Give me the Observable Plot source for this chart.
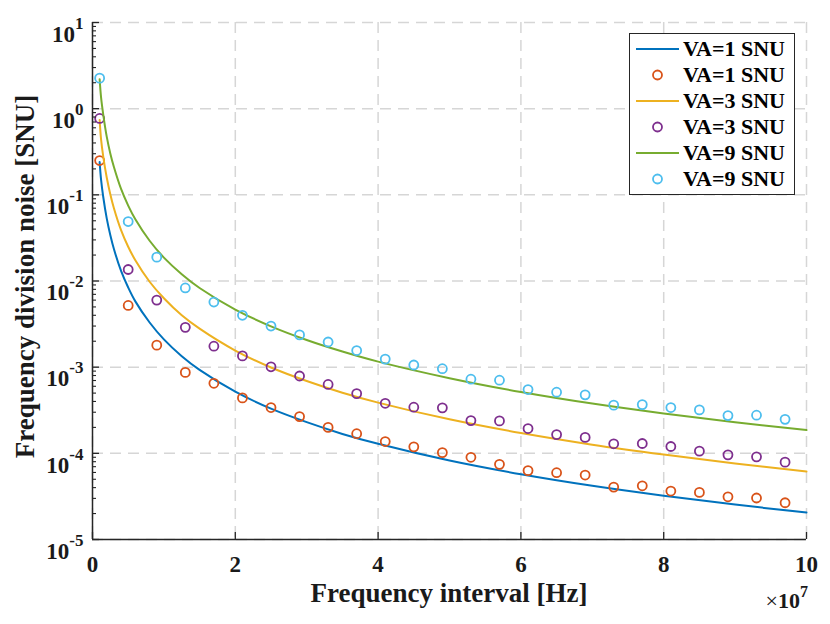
<!DOCTYPE html>
<html><head><meta charset="utf-8">
<script src="https://cdn.jsdelivr.net/npm/d3@7"></script>
<script src="https://cdn.jsdelivr.net/npm/@observablehq/plot@0.6"></script>
<style>
body{margin:0;background:#fff;}
#wrap{position:relative;width:830px;height:624px;}
.legend{position:absolute;left:629px;top:33px;width:166px;height:162px;box-sizing:border-box;border:1px solid #262626;background:#fff;padding-top:2px;font-family:'Liberation Serif','Times New Roman',serif;font-weight:bold;font-size:22px;color:#000;}
.row{position:relative;height:26px;line-height:26px;}
.row svg{position:absolute;left:4px;top:0;}
.row span{position:absolute;left:53px;top:0;white-space:nowrap;}
</style></head><body><div id="wrap"></div>
<script>
// Sample points (x in units of 1e7 Hz)
const circleX = [0.1, 0.5, 0.9, 1.3, 1.7, 2.1, 2.5, 2.9, 3.3, 3.7, 4.1, 4.5, 4.9, 5.3, 5.7, 6.1, 6.5, 6.9, 7.3, 7.7, 8.1, 8.5, 8.9, 9.3, 9.7];
const va1Circles = [0.25, 0.0052, 0.0018, 0.00087, 0.00065, 0.00044, 0.00034, 0.000267, 0.0002, 0.000169, 0.000137, 0.000119, 0.000102, 0.00009, 0.0000745, 0.000063, 0.0000596, 0.000056, 0.0000406, 0.000042, 0.0000365, 0.0000352, 0.0000313, 0.0000303, 0.0000267];
const va3Circles = [0.77, 0.0136, 0.006, 0.0029, 0.00175, 0.00135, 0.00101, 0.00079, 0.00063, 0.000494, 0.000381, 0.000343, 0.000337, 0.00024, 0.000238, 0.000194, 0.000165, 0.000153, 0.000129, 0.00013, 0.00012, 0.000106, 0.000096, 0.000091, 0.000079];
const va9Circles = [2.26, 0.049, 0.0189, 0.0083, 0.0057, 0.004, 0.003, 0.00237, 0.00196, 0.00156, 0.00124, 0.00106, 0.00096, 0.000725, 0.000706, 0.00055, 0.000512, 0.000477, 0.000362, 0.000368, 0.00034, 0.000319, 0.000274, 0.000277, 0.000248];

// Curves
const lineX = [0.1, 0.12, 0.15, 0.2, 0.25, 0.3, 0.4, 0.5, 0.6, 0.8, 1, 1.25, 1.5, 2, 2.5, 3, 3.5, 4, 5, 6, 7, 8, 9, 10];
const va1Line = [0.24, 0.15, 0.095, 0.053, 0.034, 0.0235, 0.0131, 0.0084, 0.0058, 0.0033, 0.0021, 0.00134, 0.00093, 0.00052, 0.00033, 0.00023, 0.000168, 0.000129, 0.0000825, 0.0000572, 0.000042, 0.0000322, 0.0000254, 0.0000206];
const va3Line = [0.74, 0.44, 0.28, 0.158, 0.101, 0.07, 0.039, 0.025, 0.0174, 0.0098, 0.0063, 0.004, 0.0028, 0.00156, 0.00099, 0.00069, 0.000505, 0.000388, 0.000248, 0.000172, 0.000126, 0.0000967, 0.0000763, 0.0000617];
const va9Line = [2.2, 1.35, 0.86, 0.47, 0.3, 0.21, 0.117, 0.075, 0.052, 0.0293, 0.0187, 0.012, 0.0083, 0.00466, 0.00298, 0.00207, 0.00152, 0.00116, 0.000745, 0.000515, 0.000378, 0.00029, 0.000229, 0.000186];

const xTicks = [0, 2, 4, 6, 8, 10];
const yMajor = [1e-5, 1e-4, 1e-3, 1e-2, 1e-1, 1, 10];
const yMinor = yMajor.slice(0, -1).flatMap(d => [2,3,4,5,6,7,8,9].map(k => k * d));

const legendLabels = ["VA=1 SNU", "VA=1 SNU", "VA=3 SNU", "VA=3 SNU", "VA=9 SNU", "VA=9 SNU"];
const legendKinds = ["line", "circle", "line", "circle", "line", "circle"];
const seriesColors = ["#0072BD", "#D95319", "#EDB120", "#7E2F8E", "#77AC30", "#4DBEEE"];

const xLabel = "Frequency interval [Hz]";
const yLabel = "Frequency division noise [SNU]";

const toPts = (xs, ys) => xs.map((x, i) => ({x, y: ys[i]}));
const series = [
  {kind: "line", data: toPts(lineX, va1Line)},
  {kind: "circle", data: toPts(circleX, va1Circles)},
  {kind: "line", data: toPts(lineX, va3Line)},
  {kind: "circle", data: toPts(circleX, va3Circles)},
  {kind: "line", data: toPts(lineX, va9Line)},
  {kind: "circle", data: toPts(circleX, va9Circles)}
];

const axisColor = "#262626";
const gridStyle = {stroke: "#d6d6d6", strokeOpacity: 1, strokeWidth: 1.5, strokeDasharray: "11,7"};
const font = "'Liberation Serif','Times New Roman',serif";

const plot = Plot.plot({
  width: 830, height: 624,
  marginLeft: 92, marginRight: 24, marginTop: 22, marginBottom: 85,
  style: {fontFamily: font, fontWeight: "bold", fontSize: "23px", color: "#1a1a1a", background: "#fff"},
  x: {domain: [0, 10], label: null},
  y: {type: "log", domain: [1e-5, 10], label: null},
  marks: [
    Plot.gridY(yMajor, gridStyle),
    Plot.gridX(xTicks, gridStyle),
    ...series.map((s, i) => s.kind === "line"
      ? Plot.line(s.data, {x: "x", y: "y", stroke: seriesColors[i], strokeWidth: 2, curve: "catmull-rom"})
      : Plot.dot(s.data, {x: "x", y: "y", r: 4.5, stroke: seriesColors[i], strokeWidth: 1.8, fill: "none"})),
    Plot.ruleX([0], {stroke: axisColor, strokeWidth: 1.5}),
    Plot.ruleY([1e-5], {stroke: axisColor, strokeWidth: 1.5}),
    Plot.axisY(yMajor, {fill: "none", stroke: axisColor, tickSize: 7, dx: 7, strokeWidth: 1.3}),
    Plot.axisY(yMinor, {fill: "none", stroke: axisColor, tickSize: 4, dx: 4, strokeWidth: 1.1}),
    Plot.axisX(xTicks, {fill: "none", stroke: axisColor, tickSize: 7, dy: -7, strokeWidth: 1.3}),
    Plot.axisY(yMajor, {stroke: "none", tickSize: 0, tickPadding: 9, fill: "#1a1a1a", label: null,
      tickFormat: d => String(Math.round(Math.log10(d)))}),
    Plot.axisX(xTicks, {stroke: "none", tickSize: 0, tickPadding: 16, fill: "#1a1a1a", label: null,
      tickFormat: d => String(d)})
  ]
});

document.getElementById("wrap").appendChild(plot);
const svg = d3.select(plot);

// Superscript exponents on y tick labels
svg.selectAll('g[aria-label="y-axis tick label"] text').each(function() {
  const t = d3.select(this);
  const e = t.text();
  t.text(null).attr("dy", "0.52em");
  t.append("tspan").text("10");
  t.append("tspan").attr("dy", -13).attr("font-size", 17).text(e);
});

const xs = plot.scale("x").range, ys = plot.scale("y").range;
const cx = (xs[0] + xs[1]) / 2, cy = (ys[0] + ys[1]) / 2;
svg.append("text").attr("x", cx).attr("y", 601.5).attr("text-anchor", "middle")
  .attr("font-size", 27).attr("fill", "#1a1a1a").text(xLabel);
svg.append("text").attr("transform", `translate(33.5,${cy - 4}) rotate(-90)`).attr("text-anchor", "middle")
  .attr("font-size", 27).attr("fill", "#1a1a1a").text(yLabel);
const mult = svg.append("text").attr("x", xs[1] + 2).attr("y", 608).attr("text-anchor", "end")
  .attr("font-size", 22).attr("fill", "#1a1a1a");
mult.append("tspan").attr("font-weight", "normal").text("\u00d7");
mult.append("tspan").text("10");
mult.append("tspan").attr("dy", -11).attr("font-size", 16).text("7");

// Legend
const leg = document.createElement("div");
leg.className = "legend";
legendLabels.forEach((lab, i) => {
  const row = document.createElement("div");
  row.className = "row";
  const sym = legendKinds[i] === "line"
    ? `<line x1="2" x2="45" y1="13" y2="13" stroke="${seriesColors[i]}" stroke-width="2"/>`
    : `<circle cx="23.5" cy="13" r="4.5" fill="none" stroke="${seriesColors[i]}" stroke-width="1.8"/>`;
  row.innerHTML = `<svg width="48" height="26">${sym}</svg><span>${lab}</span>`;
  leg.appendChild(row);
});
document.getElementById("wrap").appendChild(leg);
</script>
</body></html>
